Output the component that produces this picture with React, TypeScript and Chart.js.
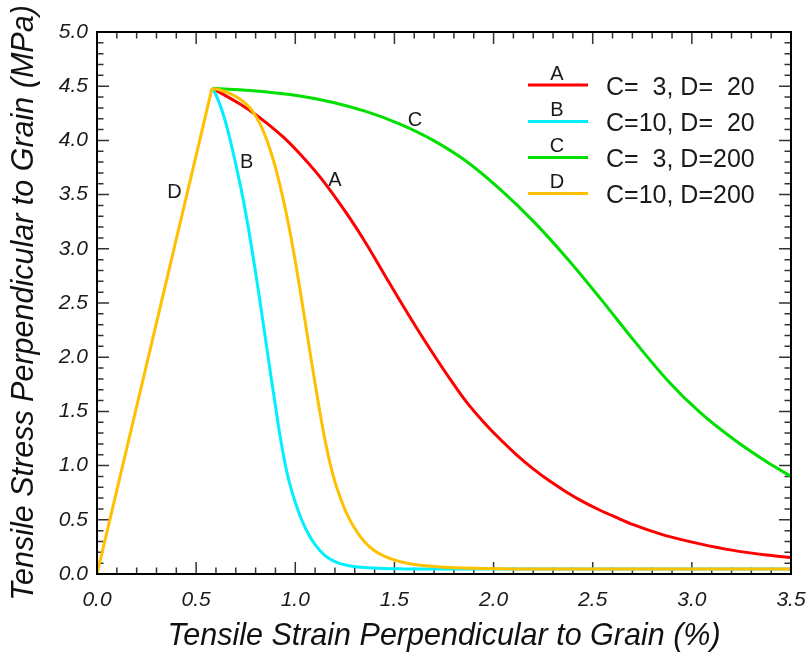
import { useEffect, useRef } from "react";
import { Chart, registerables } from "chart.js";

Chart.register(...registerables);

// Axis ticks
const strainTicks = [0, 0.5, 1.0, 1.5, 2.0, 2.5, 3.0, 3.5];
const strainTickLabels = ["0.0", "0.5", "1.0", "1.5", "2.0", "2.5", "3.0", "3.5"];
const stressTicks = [0, 0.5, 1.0, 1.5, 2.0, 2.5, 3.0, 3.5, 4.0, 4.5, 5.0];
const stressTickLabels = ["0.0", "0.5", "1.0", "1.5", "2.0", "2.5", "3.0", "3.5", "4.0", "4.5", "5.0"];

// Shared linear-elastic branch up to the tensile strength
const elasticStrain = [0, 0.58];
const elasticStress = [0, 4.48];

// Softening branches (strain %, stress MPa)
const curveAStrain = [0.58, 0.637, 0.721, 0.78, 0.856, 0.94, 1.024, 1.108, 1.192, 1.276, 1.36, 1.444, 1.528, 1.612, 1.696, 1.78, 1.864, 1.948, 2.032, 2.116, 2.2, 2.285, 2.369, 2.453, 2.537, 2.621, 2.705, 2.789, 2.873, 3.041, 3.209, 3.377, 3.5];
const curveAStress = [4.48, 4.425, 4.335, 4.265, 4.16, 4.03, 3.875, 3.7, 3.5, 3.28, 3.04, 2.78, 2.52, 2.27, 2.03, 1.8, 1.585, 1.405, 1.245, 1.1, 0.97, 0.855, 0.755, 0.665, 0.588, 0.52, 0.455, 0.4, 0.352, 0.278, 0.218, 0.175, 0.152];

const curveBStrain = [0.58, 0.6, 0.62, 0.64, 0.66, 0.68, 0.7, 0.72, 0.74, 0.76, 0.78, 0.8, 0.82, 0.84, 0.86, 0.88, 0.9, 0.92, 0.94, 0.96, 0.98, 1.0, 1.03, 1.06, 1.1, 1.15, 1.2, 1.26, 1.33, 1.42, 1.55, 1.7, 2.0, 3.5];
const curveBStress = [4.48, 4.42, 4.33, 4.22, 4.09, 3.94, 3.78, 3.61, 3.43, 3.23, 3.01, 2.78, 2.54, 2.29, 2.04, 1.79, 1.55, 1.31, 1.1, 0.92, 0.78, 0.66, 0.51, 0.39, 0.27, 0.17, 0.115, 0.08, 0.062, 0.052, 0.047, 0.045, 0.045, 0.045];

const curveCStrain = [0.58, 0.772, 1.024, 1.192, 1.36, 1.528, 1.696, 1.864, 2.032, 2.2, 2.369, 2.537, 2.705, 2.873, 3.041, 3.209, 3.377, 3.5];
const curveCStress = [4.48, 4.46, 4.41, 4.35, 4.265, 4.15, 4.0, 3.805, 3.55, 3.255, 2.915, 2.545, 2.16, 1.795, 1.49, 1.245, 1.035, 0.9];

const curveDStrain = [0.58, 0.62, 0.66, 0.7, 0.74, 0.78, 0.8, 0.82, 0.84, 0.86, 0.88, 0.9, 0.92, 0.94, 0.96, 0.98, 1.0, 1.02, 1.04, 1.06, 1.08, 1.1, 1.12, 1.14, 1.16, 1.18, 1.2, 1.23, 1.26, 1.3, 1.35, 1.4, 1.46, 1.53, 1.62, 1.75, 1.9, 2.1, 2.5, 3.5];
const curveDStress = [4.48, 4.465, 4.44, 4.405, 4.355, 4.28, 4.225, 4.16, 4.08, 3.985, 3.875, 3.75, 3.605, 3.45, 3.28, 3.09, 2.885, 2.665, 2.44, 2.21, 1.98, 1.755, 1.535, 1.33, 1.145, 0.985, 0.85, 0.69, 0.555, 0.42, 0.295, 0.215, 0.155, 0.113, 0.082, 0.062, 0.052, 0.047, 0.045, 0.045];

// Series names, parameters and colours
const seriesLetters = ["A", "B", "C", "D"];
const seriesParams = ["C=  3, D=  20", "C=10, D=  20", "C=  3, D=200", "C=10, D=200"];
const seriesColors = ["#ff0000", "#00f0ff", "#00e000", "#ffc000"];

// In-plot letter tags next to each curve (strain %, stress MPa)
const tagStrain = [1.2, 0.755, 1.604, 0.391];
const tagStress = [3.63, 3.8, 4.18, 3.515];

const SANS = "'Liberation Sans', Arial, Helvetica, sans-serif";

const pts = (xs: number[], ys: number[]) => xs.map((x, i) => ({ x, y: ys[i] }));

const frameAndTicks = {
  id: "frameAndTicks",
  beforeDatasetsDraw(chart: any) {
    const { ctx, chartArea, scales } = chart;
    const { left, right, top, bottom } = chartArea;
    const x = scales.x;
    const y = scales.y;
    ctx.save();
    ctx.strokeStyle = "#333";
    ctx.lineWidth = 1.5;
    ctx.beginPath();
    for (let i = 0; i <= 35; i++) {
      const px = x.getPixelForValue(i / 10);
      const len = i % 5 === 0 ? 12 : 6.5;
      ctx.moveTo(px, bottom);
      ctx.lineTo(px, bottom - len);
      ctx.moveTo(px, top);
      ctx.lineTo(px, top + len);
    }
    for (let i = 0; i <= 50; i++) {
      const py = y.getPixelForValue(i / 10);
      const len = i % 5 === 0 ? 12 : 6.5;
      ctx.moveTo(left, py);
      ctx.lineTo(left + len, py);
      ctx.moveTo(right, py);
      ctx.lineTo(right - len, py);
    }
    ctx.stroke();
    ctx.restore();
  },
  afterDatasetsDraw(chart: any) {
    const { ctx, chartArea, scales } = chart;
    const { left, right, top, bottom } = chartArea;
    ctx.save();
    ctx.strokeStyle = "#000";
    ctx.lineWidth = 2;
    ctx.strokeRect(left, top, right - left, bottom - top);

    // letter tags on the curves
    ctx.fillStyle = "#1a1a1a";
    ctx.font = `20px ${SANS}`;
    ctx.textAlign = "center";
    ctx.textBaseline = "middle";
    seriesLetters.forEach((s, i) => {
      ctx.fillText(s, scales.x.getPixelForValue(tagStrain[i]), scales.y.getPixelForValue(tagStress[i]));
    });
    ctx.restore();
  },
  afterDraw(chart: any) {
    const { ctx } = chart;
    ctx.save();
    const lineY = [85, 121.5, 157.5, 193.5];
    seriesLetters.forEach((s, i) => {
      const yy = lineY[i];
      ctx.strokeStyle = seriesColors[i];
      ctx.lineWidth = 3;
      ctx.beginPath();
      ctx.moveTo(528, yy);
      ctx.lineTo(588, yy);
      ctx.stroke();
      ctx.fillStyle = "#1a1a1a";
      ctx.textAlign = "center";
      ctx.textBaseline = "middle";
      ctx.font = `20px ${SANS}`;
      ctx.fillText(s, 557, yy - 11);
      ctx.textAlign = "left";
      ctx.font = `25px ${SANS}`;
      ctx.fillText(seriesParams[i], 606, yy + 3);
    });
    ctx.restore();
  },
};

export default function App() {
  const canvasRef = useRef<HTMLCanvasElement | null>(null);

  useEffect(() => {
    document.body.style.margin = "0";
    const canvas = canvasRef.current;
    if (!canvas) return;

    const softening = [
      { label: "A", xs: curveAStrain, ys: curveAStress, order: 4 },
      { label: "B", xs: curveBStrain, ys: curveBStress, order: 3 },
      { label: "C", xs: curveCStrain, ys: curveCStress, order: 2 },
      { label: "D", xs: curveDStrain, ys: curveDStress, order: 1 },
    ];

    const datasets: any[] = softening.map((s, i) => ({
      label: s.label,
      data: pts(s.xs, s.ys),
      borderColor: seriesColors[i],
      backgroundColor: seriesColors[i],
      borderWidth: 3,
      pointRadius: 0,
      cubicInterpolationMode: "monotone",
      fill: false,
      order: s.order,
    }));
    datasets.push({
      label: "elastic",
      data: pts(elasticStrain, elasticStress),
      borderColor: seriesColors[3],
      borderWidth: 3,
      pointRadius: 0,
      tension: 0,
      fill: false,
      order: 0,
    });

    const tickFont = { family: SANS, size: 21, style: "italic" as const };
    const titleFont = { family: SANS, size: 30.5, style: "italic" as const, lineHeight: 1.2 };

    const chart = new Chart(canvas, {
      type: "line",
      data: { datasets },
      options: {
        responsive: false,
        animation: false,
        devicePixelRatio: 1,
        layout: { padding: { top: 32, right: 18, bottom: 0, left: 0 } },
        plugins: { legend: { display: false }, tooltip: { enabled: false } },
        scales: {
          x: {
            type: "linear",
            min: 0,
            max: 3.5,
            afterBuildTicks: (s: any) => {
              s.ticks = strainTicks.map((v) => ({ value: v }));
            },
            afterFit: (s: any) => {
              s.height = 87;
              s.paddingLeft = 0;
              s.paddingRight = 0;
            },
            grid: { display: false, drawTicks: false },
            border: { display: false },
            ticks: {
              autoSkip: false,
              maxRotation: 0,
              padding: 14,
              color: "#1a1a1a",
              font: tickFont,
              callback: (_v: any, i: number) => strainTickLabels[i],
            },
            title: {
              display: true,
              text: "Tensile Strain Perpendicular to Grain (%)",
              color: "#111",
              font: titleFont,
              padding: { top: 0, bottom: 6 },
            },
          },
          y: {
            type: "linear",
            min: 0,
            max: 5,
            afterBuildTicks: (s: any) => {
              s.ticks = stressTicks.map((v) => ({ value: v }));
            },
            afterFit: (s: any) => {
              s.width = 97;
              s.paddingTop = 0;
              s.paddingBottom = 0;
            },
            grid: { display: false, drawTicks: false },
            border: { display: false },
            ticks: {
              autoSkip: false,
              padding: 9,
              color: "#1a1a1a",
              font: tickFont,
              callback: (_v: any, i: number) => stressTickLabels[i],
            },
            title: {
              display: true,
              text: "Tensile Stress Perpendicular to Grain (MPa)",
              color: "#111",
              font: titleFont,
              padding: { top: 6, bottom: 0 },
            },
          },
        },
      },
      plugins: [frameAndTicks],
    });

    return () => chart.destroy();
  }, []);

  return (
    <div style={{ width: 809, height: 661, background: "#fff" }}>
      <canvas ref={canvasRef} width={809} height={661} style={{ display: "block" }} />
    </div>
  );
}
